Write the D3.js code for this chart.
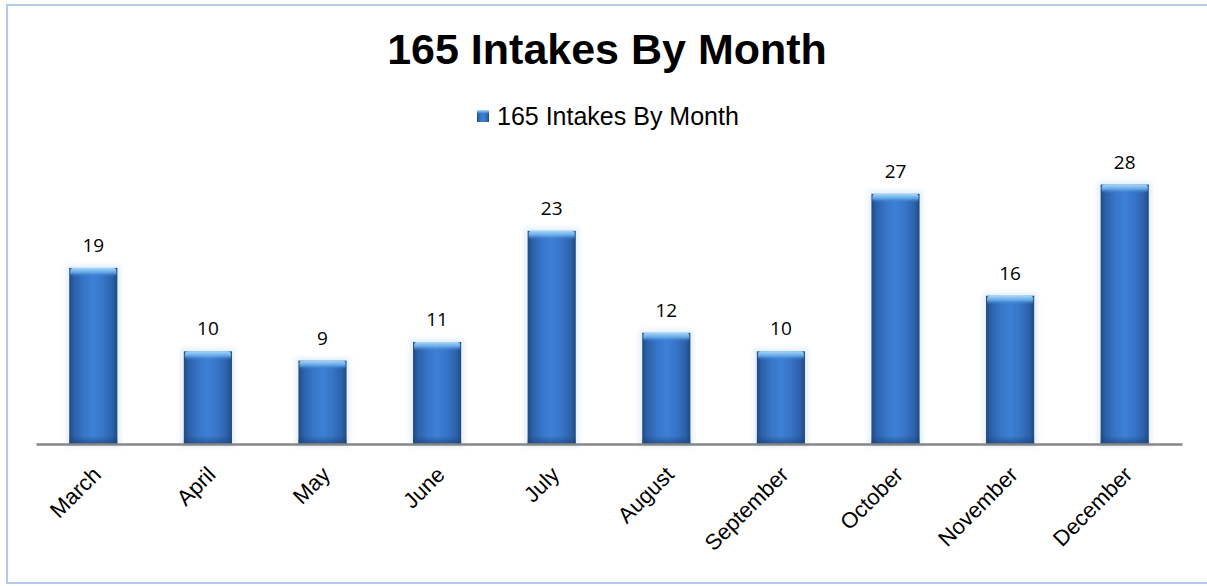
<!DOCTYPE html>
<html>
<head>
<meta charset="utf-8">
<script src="https://cdn.jsdelivr.net/npm/d3@7"></script>
<style>
  html, body { margin: 0; padding: 0; background: #fff; }
  svg { display: block; }
</style>
</head>
<body>
<svg id="chart" width="1207" height="586"></svg>
<script>
const categories = ["March","April","May","June","July","August","September","October","November","December"];
const values = [19, 10, 9, 11, 23, 12, 10, 27, 16, 28];
const titleText = "165 Intakes By Month";
const seriesName = "165 Intakes By Month";
const yDomain = [0, 30];

const W = 1207, H = 586;
const margin = { left: 36, right: 25, top: 166, bottom: 142 };
const svg = d3.select("#chart");
const defs = svg.append("defs");

const hg = defs.append("linearGradient").attr("id", "barH").attr("x1", "0").attr("x2", "1").attr("y1", "0").attr("y2", "0");
[[0, "#21497f"], [0.1, "#2c60a9"], [0.3, "#3775c8"], [0.5, "#3d80d6"], [0.7, "#3775c8"], [0.9, "#2c60a9"], [1, "#21497f"]]
  .forEach(([o, c]) => hg.append("stop").attr("offset", o).attr("stop-color", c));
const tg = defs.append("linearGradient").attr("id", "barTop").attr("x1", "0").attr("x2", "0").attr("y1", "0").attr("y2", "1");
[[0, "#a8d8f8", 1], [0.5, "#6aaeea", 0.9], [1, "#3b7ccf", 0]]
  .forEach(([o, c, a]) => tg.append("stop").attr("offset", o).attr("stop-color", c).attr("stop-opacity", a));
const bg = defs.append("linearGradient").attr("id", "barBot").attr("x1", "0").attr("x2", "0").attr("y1", "0").attr("y2", "1");
[[0, "#1d4275", 0], [1, "#1d4275", 0.7]]
  .forEach(([o, c, a]) => bg.append("stop").attr("offset", o).attr("stop-color", c).attr("stop-opacity", a));
const glow = defs.append("filter").attr("id", "glow").attr("x", "-30%").attr("y", "-10%").attr("width", "160%").attr("height", "120%");
glow.append("feGaussianBlur").attr("stdDeviation", 2.5);

// chart border
svg.append("rect").attr("x", 7).attr("y", 5).attr("width", 1212).attr("height", 578)
  .attr("fill", "#fff").attr("stroke", "#b4caec").attr("stroke-width", 2);

const x = d3.scaleBand().domain(categories).range([margin.left, W - margin.right]).paddingInner(0.58).paddingOuter(0.29);
const y = d3.scaleLinear().domain(yDomain).range([H - margin.bottom, margin.top]);
const y0 = y(0);

// title
svg.append("text").attr("x", 607).attr("y", 64).attr("text-anchor", "middle")
  .attr("font-family", "Liberation Sans, Arial, sans-serif").attr("font-weight", "bold")
  .attr("font-size", 43).attr("fill", "#000").text(titleText);

// legend
const lg = svg.append("g");
lg.append("text").attr("x", 497).attr("y", 125)
  .attr("font-family", "Liberation Sans, Arial, sans-serif").attr("font-size", 25).attr("fill", "#000").text(seriesName);
lg.append("rect").attr("x", 477).attr("y", 110).attr("width", 12).attr("height", 12).attr("fill", "url(#barH)");
lg.append("rect").attr("x", 477).attr("y", 110).attr("width", 12).attr("height", 4).attr("fill", "url(#barTop)");

// bars
const g = svg.append("g");
const bars = g.selectAll("g.bar").data(values).enter().append("g").attr("class", "bar");
bars.append("rect")
  .attr("x", (d, i) => x(categories[i]) - 3).attr("y", d => y(d) - 3)
  .attr("width", x.bandwidth() + 6).attr("height", d => y0 - y(d) + 6)
  .attr("fill", "#cfe4f7").attr("opacity", 0.6).attr("filter", "url(#glow)");
bars.append("rect")
  .attr("x", (d, i) => x(categories[i])).attr("y", d => y(d))
  .attr("width", x.bandwidth()).attr("height", d => y0 - y(d))
  .attr("fill", "url(#barH)");
bars.append("rect")
  .attr("x", (d, i) => x(categories[i]) + 1).attr("y", d => y(d))
  .attr("width", x.bandwidth() - 2).attr("height", 9).attr("rx", 3)
  .attr("fill", "url(#barTop)");
bars.append("rect")
  .attr("x", (d, i) => x(categories[i])).attr("y", d => y0 - 8)
  .attr("width", x.bandwidth()).attr("height", 8)
  .attr("fill", "url(#barBot)");

// value labels
g.selectAll("text.val").data(values).enter().append("text").attr("class", "val")
  .attr("x", (d, i) => x(categories[i]) + x.bandwidth() / 2)
  .attr("y", d => y(d) - 16)
  .attr("text-anchor", "middle")
  .attr("font-family", "Open Sans, sans-serif").attr("font-size", 19).attr("fill", "#000")
  .text(d => d);

// x axis
const xAxis = d3.axisBottom(x).tickSize(0).tickPadding(0);
const ax = svg.append("g").attr("transform", `translate(0,${y0})`).call(xAxis);
ax.select(".domain").attr("stroke", "#868686").attr("stroke-width", 2.5);
ax.selectAll(".tick text")
  .attr("font-family", "Liberation Sans, Arial, sans-serif").attr("font-size", 22).attr("fill", "#000")
  .attr("text-anchor", "end")
  .attr("dy", "0")
  .attr("transform", "translate(9,32) rotate(-45)")
  .attr("y", 0).attr("x", 0);
</script>
</body>
</html>
